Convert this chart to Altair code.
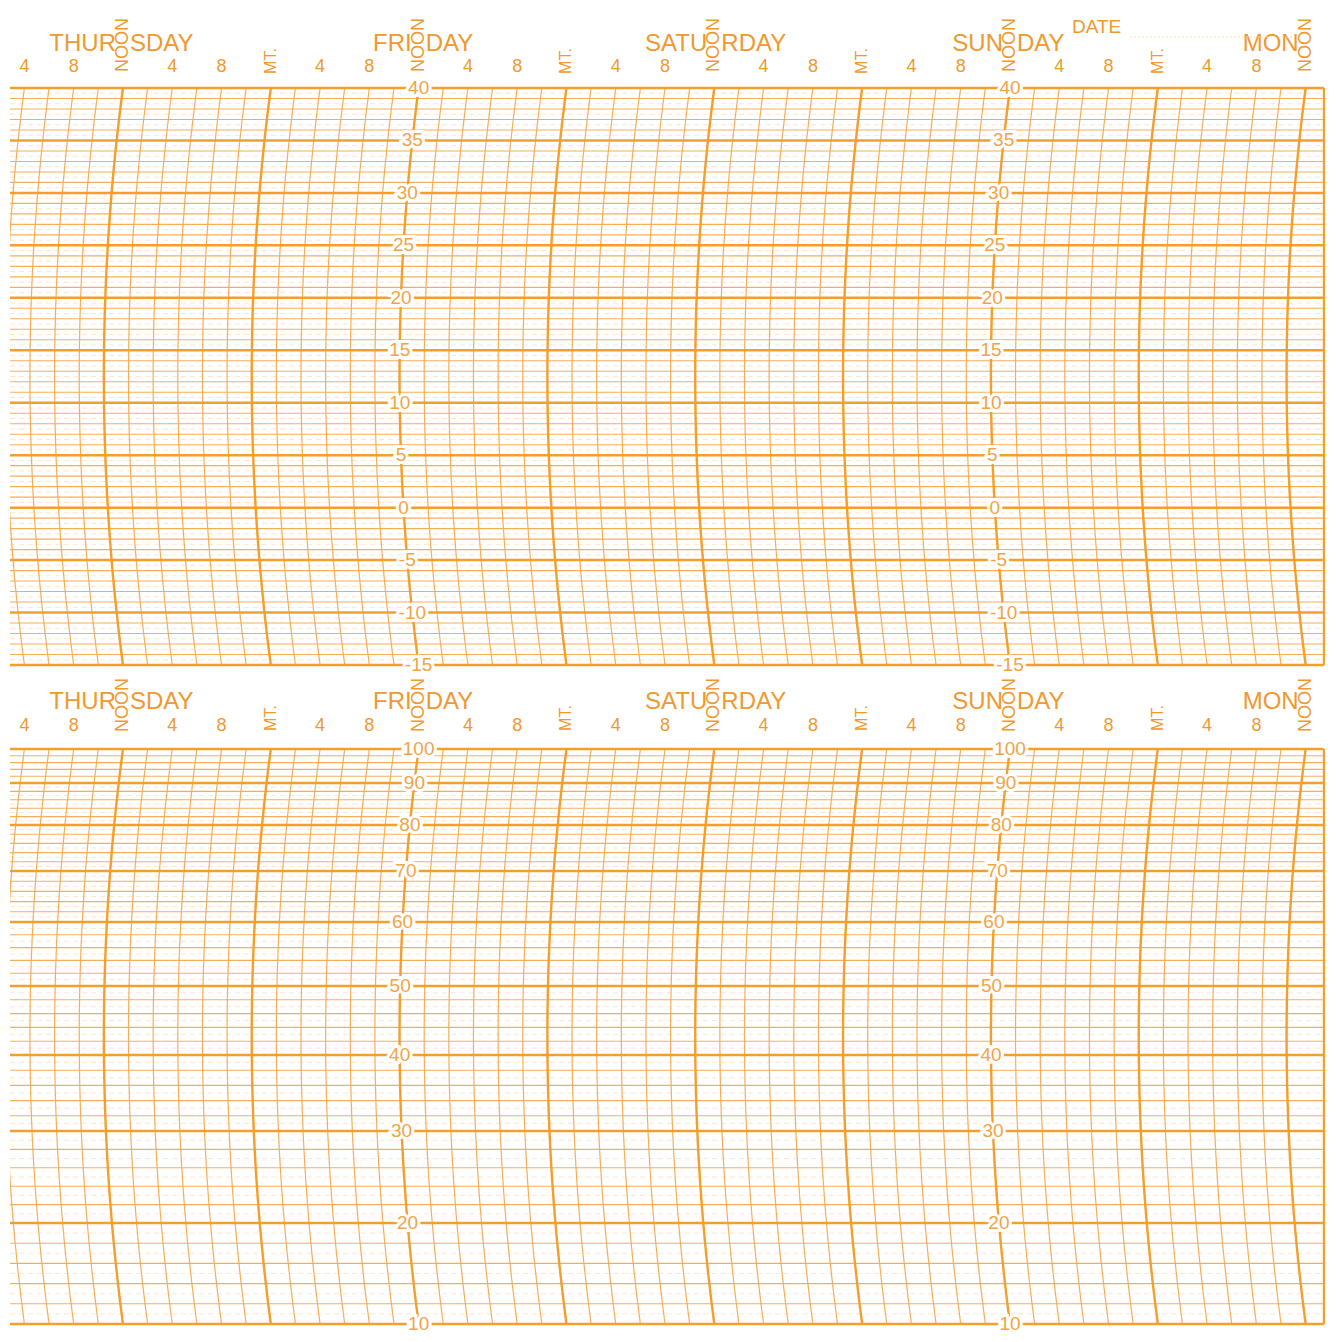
import altair as alt
import numpy as np
import pandas as pd

# ---------------- data (read from the chart paper) ----------------
# time axis in hours from Thursday 00:00
X_MIN, X_MAX = 2.83, 109.65          # visible window
BORDER_HOUR = 109.48                 # right paper border
GRID_HOURS = list(range(2, 110, 2))  # 2-hour rulings
ARC_SAG = 1.55                       # bow of the time arcs (hours)

HEADER_HOURS = list(range(4, 109, 4))
NOON_HOURS = [12, 36, 60, 84, 108]
DAY_LEFT = ["THUR", "FRI", "SATU", "SUN", "MON"]
DAY_RIGHT = ["SDAY", "DAY", "RDAY", "DAY", ""]
LABEL_HOURS = [36, 84]               # value columns on Friday / Sunday noon

# temperature panel
TEMP_MIN, TEMP_MAX = -15, 40
TEMP_RANGE = [657, 80]
TEMP_LABELS = [40, 35, 30, 25, 20, 15, 10, 5, 0, -5, -10, -15]

# humidity panel (non-linear hygrometer scale)
HUM_KNOTS = [10, 20, 30, 40, 50, 60, 70, 80, 90, 100]
HUM_KNOT_PX = [641, 540, 448, 372, 303, 239, 188, 142, 100, 66]
HUM_LABELS = [100, 90, 80, 70, 60, 50, 40, 30, 20, 10]

DATE_HOUR, DATE_LINE = 89.03, [93.74, 106.9]

# ---------------- style ----------------
FONT = "Liberation Sans"
C_MAJOR = "#F49E2C"
C_MINOR = "#F5AE58"
C_DOT = "#FBDDBB"
C_TEXT = "#EF992F"
C_LABEL = "#F2A445"

xscale = alt.Scale(domain=[X_MIN, X_MAX], nice=False, zero=False)


def header_label(h):
    if h % 24 == 12:
        return "NOON"
    if h % 24 == 0:
        return "MT."
    return "4" if h % 12 == 4 else "8"


def panel(kind):
    if kind == "temp":
        height = 670
        yscale = alt.Scale(domain=[TEMP_MIN, TEMP_MAX], range=TEMP_RANGE, nice=False, zero=False)
        samples = np.arange(TEMP_MIN, TEMP_MAX + 0.5, 1.0)
        frac = lambda v: (np.asarray(v, float) - TEMP_MIN) / (TEMP_MAX - TEMP_MIN)
        major = [v for v in range(TEMP_MIN, TEMP_MAX + 1) if v % 5 == 0]
        minor = [v for v in range(TEMP_MIN, TEMP_MAX + 1) if v % 5 != 0]
        dotted = list(np.arange(TEMP_MIN + 0.5, TEMP_MAX, 1.0))
        labels = TEMP_LABELS
        lo, hi = TEMP_MIN, TEMP_MAX
        top_px = TEMP_RANGE[1]
        dy_num, dy_day, dy_noon, dy_mt = 21, 44, 43, 27
    else:
        height = 660
        yscale = alt.Scale(domain=HUM_KNOTS, range=HUM_KNOT_PX, nice=False, zero=False)
        samples = np.arange(10, 101, 2.0)
        px = lambda v: np.interp(v, HUM_KNOTS, HUM_KNOT_PX)
        frac = lambda v: (HUM_KNOT_PX[0] - px(v)) / (HUM_KNOT_PX[0] - HUM_KNOT_PX[-1])
        major = list(range(10, 101, 10))
        minor = [v for v in range(12, 100, 2) if v % 10 != 0]
        dotted = [v for v in range(11, 90, 2)]
        labels = HUM_LABELS
        lo, hi = 10, 100
        top_px = HUM_KNOT_PX[-1]
        dy_num, dy_day, dy_noon, dy_mt = 23, 47, 44, 31

    def arc(h, v):
        f = frac(v)
        return h - ARC_SAG * (1 - (2 * f - 1) ** 2)

    # curved time rulings
    rows = []
    for h in GRID_HOURS:
        for v in samples:
            rows.append({"h": h, "v": float(v), "x": float(arc(h, v)), "major": h % 12 == 0})
    vdf = pd.DataFrame(rows)

    def vlines(is_major, width, color):
        return alt.Chart(vdf[vdf.major == is_major]).mark_line(
            clip=True, strokeWidth=width, color=color
        ).encode(
            x=alt.X("x:Q", scale=xscale, axis=None),
            y=alt.Y("v:Q", scale=yscale, axis=None),
            detail="h:N",
            order="v:Q",
        )

    def hlines(vals, width, color, dash=None):
        d = pd.DataFrame({"v": vals, "x0": X_MIN, "x1": BORDER_HOUR})
        kw = dict(strokeWidth=width, color=color)
        if dash:
            kw["strokeDash"] = dash
        return alt.Chart(d).mark_rule(**kw).encode(
            x=alt.X("x0:Q", scale=xscale, axis=None),
            x2="x1",
            y=alt.Y("v:Q", scale=yscale, axis=None),
        )

    border = alt.Chart(pd.DataFrame({"x": [BORDER_HOUR], "a": [lo], "b": [hi]})).mark_rule(
        strokeWidth=2.2, color=C_MAJOR
    ).encode(
        x=alt.X("x:Q", scale=xscale, axis=None),
        y=alt.Y("a:Q", scale=yscale, axis=None),
        y2="b",
    )

    # value labels along Friday / Sunday noon arcs
    lrows = []
    for h in LABEL_HOURS:
        for v in labels:
            lrows.append({"x": float(arc(h, v)), "v": v, "t": str(v)})
    ldf = pd.DataFrame(lrows)
    lab_enc = dict(
        x=alt.X("x:Q", scale=xscale, axis=None),
        y=alt.Y("v:Q", scale=yscale, axis=None),
        text="t:N",
    )
    halo = alt.Chart(ldf).mark_text(
        font=FONT, fontSize=19, color="white", stroke="white", strokeWidth=6, baseline="middle"
    ).encode(**lab_enc)
    ltext = alt.Chart(ldf).mark_text(
        font=FONT, fontSize=19, color=C_LABEL, baseline="middle"
    ).encode(**lab_enc)

    # header
    hdf = pd.DataFrame({"x": HEADER_HOURS, "t": [header_label(h) for h in HEADER_HOURS]})
    nums = alt.Chart(hdf[hdf.t.isin(["4", "8"])]).mark_text(
        font=FONT, fontSize=18, color=C_TEXT, baseline="middle"
    ).encode(x=alt.X("x:Q", scale=xscale, axis=None), y=alt.value(top_px - dy_num), text="t:N")
    noon = alt.Chart(hdf[hdf.t == "NOON"]).mark_text(
        font=FONT, fontSize=18, color=C_TEXT, baseline="middle", angle=270
    ).encode(x=alt.X("x:Q", scale=xscale, axis=None), y=alt.value(top_px - dy_noon), text="t:N")
    mt = alt.Chart(hdf[hdf.t == "MT."]).mark_text(
        font=FONT, fontSize=16, color=C_TEXT, baseline="middle", angle=270
    ).encode(x=alt.X("x:Q", scale=xscale, axis=None), y=alt.value(top_px - dy_mt), text="t:N")

    ddf = pd.DataFrame({"x": NOON_HOURS, "l": DAY_LEFT, "r": DAY_RIGHT})
    day_l = alt.Chart(ddf).mark_text(
        font=FONT, fontSize=24, color=C_TEXT, baseline="middle", align="right", dx=-7
    ).encode(x=alt.X("x:Q", scale=xscale, axis=None), y=alt.value(top_px - dy_day), text="l:N")
    day_r = alt.Chart(ddf).mark_text(
        font=FONT, fontSize=24, color=C_TEXT, baseline="middle", align="left", dx=7
    ).encode(x=alt.X("x:Q", scale=xscale, axis=None), y=alt.value(top_px - dy_day), text="r:N")

    layers = [
        hlines(dotted, 0.7, C_DOT, [5, 4]),
        hlines(minor, 1.1, C_MINOR),
        vlines(False, 1.2, C_MINOR),
        hlines(major, 2.5, C_MAJOR),
        vlines(True, 2.4, C_MAJOR),
        border,
        halo,
        ltext,
        nums,
        noon,
        mt,
        day_l,
        day_r,
    ]

    if kind == "temp":
        date_txt = alt.Chart(pd.DataFrame({"x": [DATE_HOUR], "t": ["DATE"]})).mark_text(
            font=FONT, fontSize=19, color=C_TEXT, baseline="middle", align="left"
        ).encode(x=alt.X("x:Q", scale=xscale, axis=None), y=alt.value(19), text="t:N")
        date_line = alt.Chart(pd.DataFrame({"a": [DATE_LINE[0]], "b": [DATE_LINE[1]]})).mark_rule(
            strokeWidth=1, color=C_DOT, strokeDash=[2, 2]
        ).encode(x=alt.X("a:Q", scale=xscale, axis=None), x2="b", y=alt.value(29))
        layers += [date_txt, date_line]

    return alt.layer(*layers).properties(width=1316, height=height)


chart = alt.vconcat(panel("temp"), panel("hum"), spacing=0).properties(
    padding={"left": 0, "top": 0, "right": 0, "bottom": 0}, background="white"
).configure_view(stroke=None)

chart.save("out.html", embed_options={"renderer": "svg", "actions": False})
